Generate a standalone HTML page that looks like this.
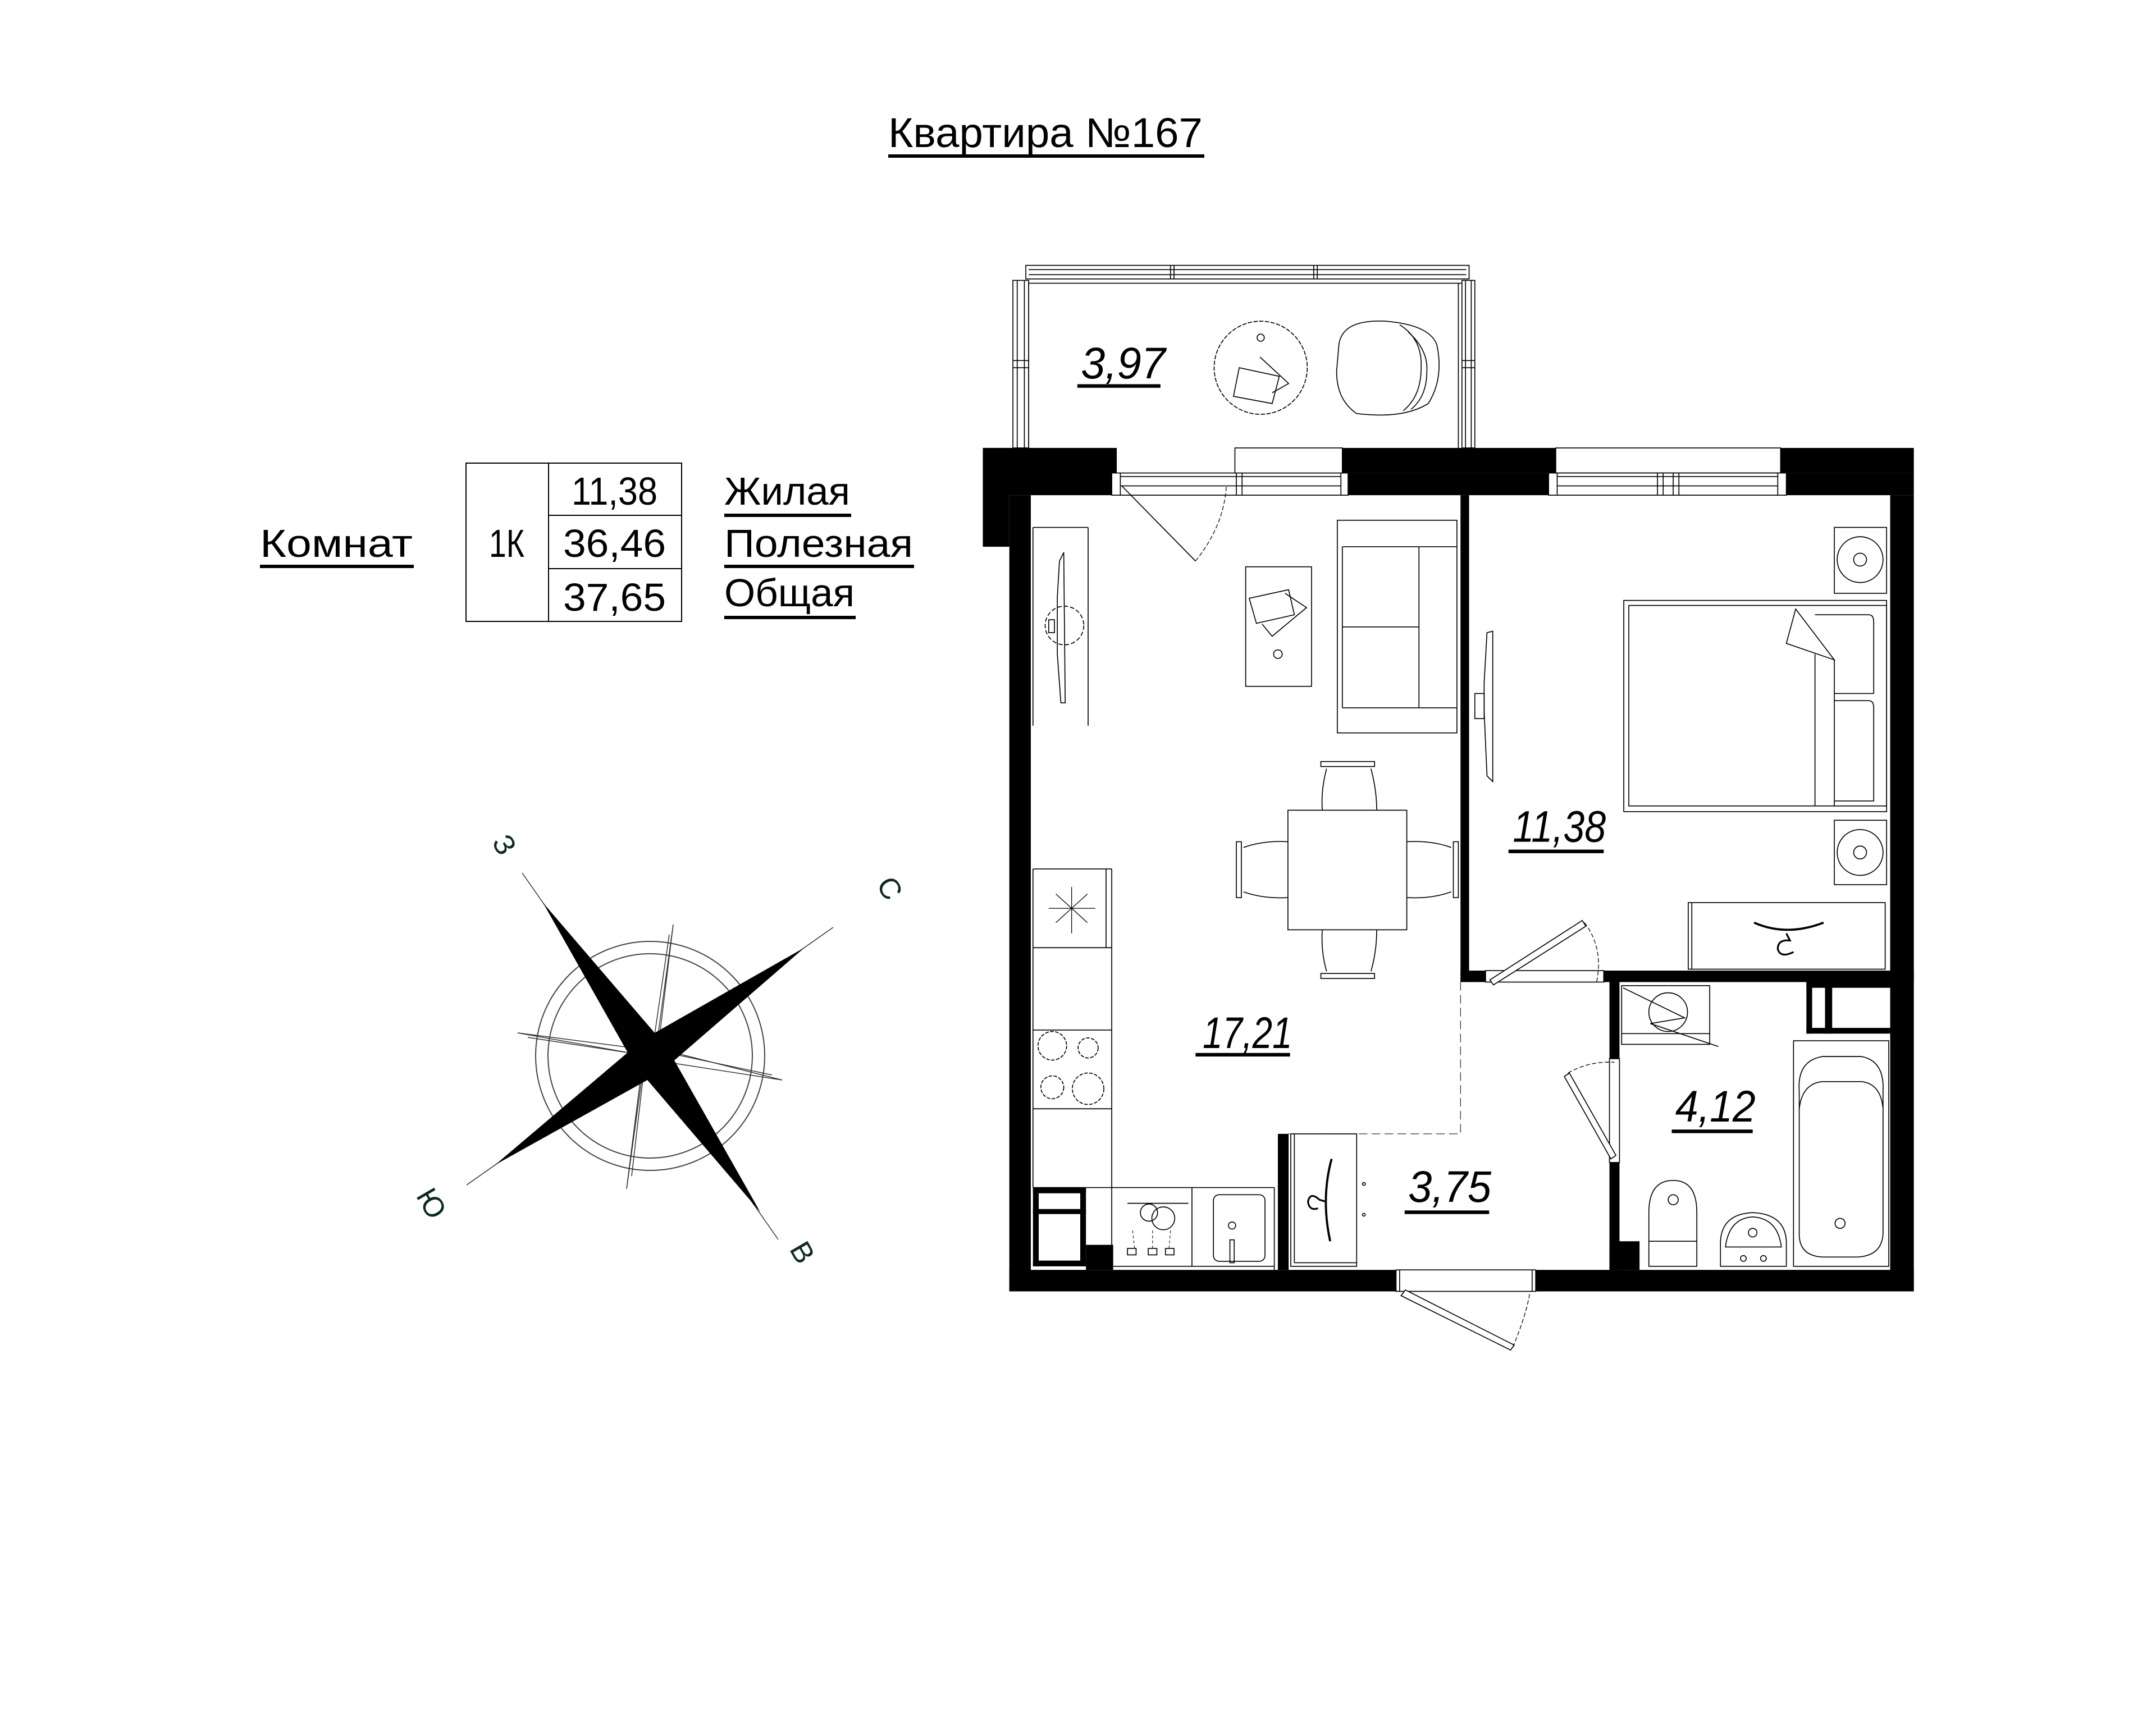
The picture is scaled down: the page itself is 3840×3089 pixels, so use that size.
<!DOCTYPE html>
<html><head><meta charset="utf-8"><style>
html,body{margin:0;padding:0;background:#fff;}
svg{display:block;}
text{font-family:"Liberation Sans","DejaVu Sans",sans-serif;}
</style></head><body>
<svg width="3840" height="3089" viewBox="0 0 3840 3089" xmlns="http://www.w3.org/2000/svg">
<rect width="3840" height="3089" fill="#fff"/>

<!-- Title -->
<text x="1582" y="262" font-size="74" textLength="560" lengthAdjust="spacingAndGlyphs">Квартира №167</text>
<rect x="1582" y="275" width="563" height="6" fill="#000"/>

<!-- Summary table -->
<g fill="none" stroke="#000" stroke-width="2">
<rect x="830" y="825" width="384" height="282"/>
<line x1="977" y1="825" x2="977" y2="1107"/>
<line x1="977" y1="918" x2="1214" y2="918"/>
<line x1="977" y1="1013" x2="1214" y2="1013"/>
</g>
<g font-size="70">
<text x="1018" y="899" textLength="153" lengthAdjust="spacingAndGlyphs">11,38</text>
<text x="1003" y="992" textLength="183" lengthAdjust="spacingAndGlyphs">36,46</text>
<text x="1003" y="1088" textLength="183" lengthAdjust="spacingAndGlyphs">37,65</text>
<text x="871" y="992" textLength="63" lengthAdjust="spacingAndGlyphs">1К</text>
<text x="463" y="992" textLength="272" lengthAdjust="spacingAndGlyphs">Комнат</text>
<text x="1290" y="899" textLength="224" lengthAdjust="spacingAndGlyphs">Жилая</text>
<text x="1290" y="992" textLength="336" lengthAdjust="spacingAndGlyphs">Полезная</text>
<text x="1290" y="1080" textLength="232" lengthAdjust="spacingAndGlyphs">Общая</text>
</g>
<g fill="#000">
<rect x="463" y="1006" width="274" height="6"/>
<rect x="1290" y="915" width="226" height="6"/>
<rect x="1290" y="1006" width="338" height="6"/>
<rect x="1290" y="1097" width="234" height="6"/>
</g>

<!-- Compass -->
<g>
<circle cx="1158" cy="1881" r="204" fill="none" stroke="#444" stroke-width="2"/>
<circle cx="1158" cy="1881" r="182" fill="none" stroke="#444" stroke-width="2"/>
<g stroke="#333" stroke-width="1.5" fill="none">
<line x1="930" y1="1555" x2="1386" y2="2208"/>
<line x1="1484" y1="1652" x2="831" y2="2111"/>
<polygon points="1199,1647 1172,1868 1393,1924 1148,1886 1116,2118 1146,1880 922,1840 1168,1872"/>
<polyline points="1192,1665 1162,1870 1375,1915"/>
<polyline points="940,1848 1150,1880 1125,2095"/>
</g>
<polygon points="967,1608 1166,1840 1433,1688 1201,1889 1354,2159 1153,1924 882,2075 1118,1875" fill="#000"/>
<g font-size="52" fill="#0d2a1f">
<text x="0" y="0" transform="translate(875,1500) rotate(60)">З</text>
<text x="0" y="0" transform="translate(1560,1575) rotate(60)">С</text>
<text x="0" y="0" transform="translate(740,2130) rotate(60)">Ю</text>
<text x="0" y="0" transform="translate(1405,2225) rotate(60)">В</text>
</g>
</g>

<!-- Plan (display coords of zoom; full = 1600 + x*1.2755, 400 + y*1.2755) -->
<g transform="translate(1600,400) scale(1.2755)">
<g fill="none" stroke="#000" stroke-width="1.3">
<!-- Balcony -->
<rect x="178" y="57" width="619" height="19"/>
<line x1="182" y1="63" x2="793" y2="63"/>
<line x1="182" y1="70" x2="793" y2="70"/>
<line x1="380" y1="57" x2="380" y2="76"/><line x1="385" y1="57" x2="385" y2="76"/>
<line x1="580" y1="57" x2="580" y2="76"/><line x1="585" y1="57" x2="585" y2="76"/>
<rect x="160" y="78" width="22" height="234"/>
<line x1="166" y1="78" x2="166" y2="312"/><line x1="176" y1="78" x2="176" y2="312"/>
<line x1="160" y1="190" x2="182" y2="190"/><line x1="160" y1="200" x2="182" y2="200"/>
<rect x="787" y="78" width="18" height="234"/>
<line x1="792" y1="78" x2="792" y2="312"/><line x1="800" y1="78" x2="800" y2="312"/>
<line x1="787" y1="190" x2="805" y2="190"/><line x1="787" y1="200" x2="805" y2="200"/>
<line x1="182" y1="82" x2="787" y2="82"/>
<line x1="182" y1="82" x2="182" y2="312"/><line x1="782" y1="82" x2="782" y2="312"/>
<circle cx="506" cy="200" r="65" stroke-dasharray="6 2"/>
<circle cx="506" cy="158" r="5"/>
<polygon points="476,200 532,212 522,250 468,240"/>
<polyline points="505,185 545,222 522,235"/>
<path d="M615,170 Q618,132 680,135 Q742,140 752,168 Q762,215 740,250 Q705,272 640,264 Q612,245 612,205 Z"/>
<path d="M700,140 Q732,160 730,200 Q730,240 705,260"/>
<path d="M712,150 Q740,175 738,205 Q738,240 716,258"/>
<!-- windows -->
<rect x="298" y="347" width="330" height="31" fill="#fff"/>
<line x1="310" y1="352" x2="618" y2="352"/><line x1="310" y1="365" x2="618" y2="365"/>
<line x1="310" y1="347" x2="310" y2="378"/><line x1="618" y1="347" x2="618" y2="378"/>
<line x1="472" y1="347" x2="472" y2="378"/><line x1="480" y1="347" x2="480" y2="378"/>
<rect x="470" y="312" width="150" height="35" fill="#fff"/>
<rect x="918" y="312" width="314" height="35" fill="#fff"/>
<rect x="908" y="347" width="332" height="31" fill="#fff"/>
<line x1="920" y1="352" x2="1228" y2="352"/><line x1="920" y1="365" x2="1228" y2="365"/>
<line x1="920" y1="347" x2="920" y2="378"/><line x1="1228" y1="347" x2="1228" y2="378"/>
<line x1="1060" y1="347" x2="1060" y2="378"/><line x1="1068" y1="347" x2="1068" y2="378"/>
<line x1="1082" y1="347" x2="1082" y2="378"/><line x1="1090" y1="347" x2="1090" y2="378"/>
<!-- balcony door -->
<line x1="312" y1="365" x2="415" y2="470"/>
<path d="M415,470 Q455,420 458,365" stroke-dasharray="6 3" stroke-width="1"/>
<!-- TV unit living -->
<line x1="188" y1="423" x2="188" y2="700"/><line x1="265" y1="423" x2="265" y2="700"/><line x1="188" y1="423" x2="265" y2="423"/>
<path d="M225,470 L231,458 L233,668 L227,668 L222,600 L222,520 Z"/>
<circle cx="232" cy="560" r="27" stroke-dasharray="6 3"/>
<rect x="210" y="552" width="8" height="18"/>
<!-- coffee table -->
<rect x="485" y="478" width="92" height="167"/>
<polygon points="490,522 545,510 553,545 500,557"/>
<polyline points="540,515 570,535 522,575 508,558"/>
<circle cx="530" cy="600" r="6"/>
<!-- sofa -->
<rect x="613" y="413" width="167" height="297"/>
<line x1="620" y1="450" x2="780" y2="450"/>
<line x1="620" y1="675" x2="780" y2="675"/>
<line x1="727" y1="450" x2="727" y2="675"/>
<line x1="620" y1="562" x2="727" y2="562"/>
<line x1="620" y1="450" x2="620" y2="675"/>
<!-- dining -->
<rect x="544" y="818" width="166" height="167"/>
<rect x="590" y="750" width="75" height="7"/>
<path d="M598,760 Q590,790 592,818 M660,760 Q668,790 668,818"/>
<rect x="590" y="1046" width="75" height="7"/>
<path d="M598,1043 Q590,1015 592,985 M660,1043 Q668,1015 668,985"/>
<rect x="472" y="862" width="7" height="78"/>
<path d="M482,870 Q510,860 544,862 M482,932 Q510,942 544,940"/>
<rect x="775" y="862" width="7" height="78"/>
<path d="M772,870 Q745,860 710,862 M772,932 Q745,942 710,940"/>
<!-- kitchen -->
<line x1="188" y1="900" x2="188" y2="1345"/>
<line x1="298" y1="900" x2="298" y2="1460"/>
<line x1="188" y1="900" x2="298" y2="900"/>
<line x1="188" y1="1010" x2="298" y2="1010"/>
<line x1="188" y1="1125" x2="298" y2="1125"/>
<line x1="188" y1="1235" x2="298" y2="1235"/>
<line x1="188" y1="1345" x2="525" y2="1345"/>
<line x1="290" y1="900" x2="290" y2="1010"/>
<g stroke-width="1">
<line x1="242" y1="925" x2="242" y2="990"/><line x1="210" y1="955" x2="275" y2="955"/>
<line x1="220" y1="935" x2="264" y2="975"/><line x1="264" y1="935" x2="220" y2="975"/>
</g>
<circle cx="215" cy="1147" r="20" stroke-dasharray="5 2"/>
<circle cx="265" cy="1150" r="14" stroke-dasharray="5 2"/>
<circle cx="215" cy="1205" r="16" stroke-dasharray="5 2"/>
<circle cx="265" cy="1207" r="22" stroke-dasharray="5 2"/>
<line x1="410" y1="1345" x2="410" y2="1455"/>
<line x1="298" y1="1455" x2="525" y2="1455"/>
<line x1="525" y1="1345" x2="525" y2="1460"/>
<rect x="440" y="1355" width="72" height="93" rx="8"/>
<circle cx="466" cy="1398" r="5"/>
<rect x="463" y="1418" width="6" height="32"/>
<line x1="320" y1="1367" x2="405" y2="1367"/>
<circle cx="350" cy="1380" r="12"/><circle cx="370" cy="1388" r="16"/>
<g stroke-width="0.8" stroke-dasharray="4 3">
<line x1="327" y1="1405" x2="330" y2="1430"/><line x1="355" y1="1405" x2="355" y2="1430"/><line x1="380" y1="1405" x2="378" y2="1430"/>
</g>
<rect x="320" y="1430" width="12" height="9"/><rect x="349" y="1430" width="12" height="9"/><rect x="373" y="1430" width="12" height="9"/>
<!-- hall wardrobe -->
<rect x="548" y="1270" width="92" height="185"/>
<line x1="553" y1="1270" x2="553" y2="1450"/><line x1="553" y1="1450" x2="640" y2="1450"/>
<path d="M605,1305 Q590,1360 603,1420" stroke-width="3"/>
<path d="M598,1365 L588,1362 Q575,1350 572,1365 Q574,1378 586,1374" stroke-width="2.5"/>
<circle cx="650" cy="1340" r="2"/><circle cx="650" cy="1383" r="2"/>
<!-- dashed zone boundary -->
<path d="M785,1058 L785,1270 L545,1270" stroke-dasharray="12 6" stroke-width="0.8"/>
<!-- bedroom -->
<path d="M822,570 L830,568 L830,778 L822,770 L818,680 L818,640 Z"/>
<rect x="805" y="655" width="13" height="35"/>
<rect x="1307" y="423" width="73" height="92"/>
<circle cx="1343" cy="468" r="32"/><circle cx="1343" cy="468" r="9"/>
<rect x="1307" y="832" width="73" height="90"/>
<circle cx="1343" cy="877" r="32"/><circle cx="1343" cy="877" r="9"/>
<rect x="1013" y="525" width="367" height="295"/>
<rect x="1020" y="532" width="360" height="280"/>
<line x1="1280" y1="600" x2="1280" y2="812"/>
<line x1="1307" y1="608" x2="1307" y2="812"/>
<path d="M1280,545 L1355,545 Q1362,545 1362,555 L1362,655 M1307,655 L1362,655"/>
<path d="M1307,665 L1355,665 Q1362,665 1362,675 L1362,805 L1307,805"/>
<polygon points="1253,537 1240,585 1307,608"/>
<rect x="1103" y="947" width="275" height="93"/>
<line x1="1108" y1="947" x2="1108" y2="1040"/>
<path d="M1195,975 Q1240,995 1292,975" stroke-width="3"/>
<path d="M1240,990 L1245,1000 Q1228,998 1228,1012 Q1232,1025 1250,1016" stroke-width="2.5"/>
<!-- bedroom door -->
<rect x="820" y="1042" width="165" height="16" fill="#fff"/>
<polygon points="826,1055 955,972 960,980 831,1062" fill="#fff"/>
<path d="M958,975 Q985,1010 975,1058" stroke-dasharray="6 3" stroke-width="1"/>
<!-- bathroom -->
<rect x="1010" y="1063" width="123" height="82"/>
<line x1="1010" y1="1130" x2="1133" y2="1130"/>
<circle cx="1075" cy="1100" r="27"/>
<path d="M1012,1066 L1098,1108 L1050,1116 L1145,1148"/>
<rect x="1250" y="1140" width="133" height="315"/>
<path d="M1258,1210 Q1255,1168 1290,1162 L1345,1162 Q1377,1168 1375,1210 L1375,1410 Q1373,1440 1340,1442 L1290,1442 Q1258,1440 1258,1410 Z"/>
<path d="M1258,1235 Q1262,1200 1290,1197 L1345,1197 Q1372,1200 1375,1235"/>
<circle cx="1315" cy="1395" r="7"/>
<path d="M1048,1455 L1048,1380 Q1048,1335 1082,1335 Q1115,1335 1115,1380 L1115,1455 Z"/>
<line x1="1048" y1="1420" x2="1115" y2="1420"/>
<circle cx="1082" cy="1362" r="7"/>
<path d="M1148,1455 L1148,1420 Q1150,1382 1193,1380 Q1238,1382 1240,1420 L1240,1455 Z"/>
<path d="M1155,1428 Q1160,1388 1193,1386 Q1228,1388 1233,1428 Z"/>
<circle cx="1193" cy="1408" r="6"/><circle cx="1180" cy="1444" r="4"/><circle cx="1208" cy="1444" r="4"/>
<!-- bath door -->
<rect x="993" y="1165" width="14" height="145" fill="#fff"/>
<polygon points="930,1190 937,1185 1002,1300 995,1305" fill="#fff"/>
<path d="M935,1185 Q965,1168 1000,1170" stroke-dasharray="6 3" stroke-width="1"/>
<!-- entrance door -->
<rect x="695" y="1460" width="195" height="30" fill="#fff"/>
<line x1="700" y1="1460" x2="700" y2="1490"/><line x1="885" y1="1460" x2="885" y2="1490"/>
<polygon points="702,1496 708,1488 860,1565 855,1572" fill="#fff"/>
<path d="M858,1568 Q878,1520 882,1490" stroke-dasharray="6 3" stroke-width="1"/>
</g>

<!-- walls -->
<g fill="#000">
<rect x="118" y="312" width="187" height="35"/>
<rect x="118" y="312" width="180" height="66"/>
<rect x="118" y="312" width="37" height="138"/>
<rect x="155" y="378" width="30" height="1112"/>
<rect x="620" y="312" width="298" height="35"/>
<rect x="628" y="347" width="280" height="31"/>
<rect x="1232" y="312" width="186" height="35"/>
<rect x="1240" y="347" width="178" height="31"/>
<rect x="1385" y="378" width="33" height="1112"/>
<rect x="785" y="378" width="12" height="680"/>
<rect x="785" y="1042" width="35" height="16"/>
<rect x="985" y="1042" width="433" height="16"/>
<rect x="993" y="1058" width="14" height="107"/>
<rect x="993" y="1310" width="14" height="150"/>
<rect x="993" y="1420" width="42" height="40"/>
<rect x="530" y="1270" width="15" height="190"/>
<rect x="155" y="1460" width="540" height="30"/>
<rect x="890" y="1460" width="528" height="30"/>
<rect x="262" y="1425" width="38" height="35"/>
<rect x="188" y="1345" width="74" height="8"/>
<rect x="188" y="1345" width="8" height="110"/>
<rect x="254" y="1345" width="8" height="110"/>
<rect x="188" y="1447" width="74" height="8"/>
<rect x="188" y="1375" width="74" height="7"/>
<rect x="1268" y="1058" width="117" height="8"/>
<rect x="1268" y="1058" width="8" height="72"/>
<rect x="1268" y="1122" width="117" height="8"/>
<rect x="1294" y="1058" width="10" height="72"/>
</g>

<!-- area labels -->
<g font-size="62" font-style="italic">
<text x="255" y="215" textLength="118" lengthAdjust="spacingAndGlyphs">3,97</text>
<text x="425" y="1150" textLength="125" lengthAdjust="spacingAndGlyphs">17,21</text>
<text x="858" y="862" textLength="130" lengthAdjust="spacingAndGlyphs">11,38</text>
<text x="1085" y="1253" textLength="112" lengthAdjust="spacingAndGlyphs">4,12</text>
<text x="712" y="1365" textLength="116" lengthAdjust="spacingAndGlyphs">3,75</text>
</g>
<g fill="#000">
<rect x="250" y="223" width="116" height="5"/>
<rect x="415" y="1157" width="132" height="5"/>
<rect x="852" y="873" width="133" height="5"/>
<rect x="1080" y="1264" width="113" height="5"/>
<rect x="707" y="1377" width="118" height="5"/>
</g>
</g>
</svg>
</body></html>
